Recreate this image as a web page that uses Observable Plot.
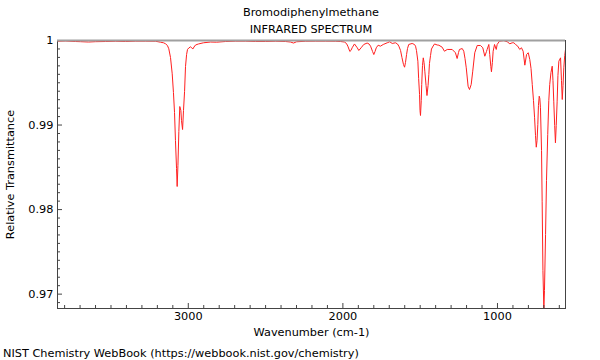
<!DOCTYPE html>
<html>
<head>
<meta charset="utf-8">
<script src="https://cdn.jsdelivr.net/npm/d3@7"></script>
<script src="https://cdn.jsdelivr.net/npm/@observablehq/plot@0.6"></script>
<style>
  body { margin: 0; background: #fff; font-family: "DejaVu Sans", sans-serif; }
  #wrap { position: relative; width: 600px; height: 360px; }
  .title { position: absolute; left: 57px; width: 508px; text-align: center; font-size: 11.3px; color: #000; line-height: 14px; }
  #chart { position: absolute; left: 0; top: 34px; }
  #caption { position: absolute; left: 3px; top: 346px; font-size: 11.3px; color: #000; line-height: 16px; }
</style>
</head>
<body>
<div id="wrap">
  <div class="title" style="top:6px">Bromodiphenylmethane</div>
  <div class="title" style="top:23px">INFRARED SPECTRUM</div>
  <div id="chart"></div>
  <div id="caption">NIST Chemistry WebBook (https://webbook.nist.gov/chemistry)</div>
</div>
<script>
const wavenumber = [3846,3794,3730,3697,3645,3600,3536,3471,3406,3341,3277,3212,3180,3160,3147,3135,3126,3115,3104,3096,3089,3083,3076,3072,3067,3061,3055,3048,3044,3037,3031,3024,3018,3011,3005,2997,2986,2979,2971,2963,2953,2934,2902,2856,2817,2759,2695,2630,2565,2501,2436,2371,2339,2319,2300,2242,2177,2112,2048,2016,1990,1977,1968,1955,1948,1940,1925,1907,1897,1882,1865,1843,1831,1821,1808,1800,1792,1784,1772,1757,1739,1713,1697,1681,1660,1647,1638,1627,1618,1608,1601,1595,1588,1582,1574,1552,1537,1530,1524,1515,1510,1504,1501,1498,1493,1490,1485,1480,1475,1470,1462,1456,1449,1444,1440,1433,1427,1416,1407,1390,1379,1358,1343,1325,1293,1272,1261,1252,1246,1228,1218,1210,1202,1190,1181,1170,1160,1147,1131,1110,1095,1082,1071,1067,1056,1050,1043,1039,1033,1028,1019,1008,1002,987,959,937,920,905,894,883,869,856,845,834,823,812,801,791,783,775,767,760,754,749,744,739,735,730,726,722,715,711,706,700,696,689,683,675,668,662,654,646,641,636,630,625,620,614,609,603,592,586,581,576,571,565,560];
const transmittance = [0.99991,0.99994,0.99988,0.99986,0.99982,0.99986,0.99988,0.99991,0.99988,0.99992,0.99992,0.99991,0.99980,0.99973,0.99961,0.99941,0.99902,0.99799,0.99606,0.99385,0.99148,0.98817,0.98486,0.98273,0.98522,0.98924,0.99219,0.99172,0.99054,0.98947,0.99172,0.99397,0.99692,0.99834,0.99894,0.99911,0.99925,0.99917,0.99899,0.99923,0.99947,0.99959,0.99973,0.99982,0.99980,0.99988,0.99992,0.99992,0.99988,0.99988,0.99991,0.99988,0.99982,0.99970,0.99985,0.99991,0.99992,0.99992,0.99991,0.99988,0.99982,0.99965,0.99933,0.99870,0.99882,0.99914,0.99959,0.99914,0.99882,0.99914,0.99953,0.99970,0.99959,0.99933,0.99870,0.99834,0.99870,0.99914,0.99944,0.99933,0.99953,0.99973,0.99985,0.99965,0.99973,0.99959,0.99933,0.99882,0.99799,0.99716,0.99684,0.99740,0.99834,0.99905,0.99953,0.99965,0.99953,0.99933,0.99882,0.99755,0.99551,0.99361,0.99172,0.99113,0.99290,0.99480,0.99704,0.99795,0.99740,0.99637,0.99468,0.99349,0.99468,0.99598,0.99728,0.99823,0.99899,0.99935,0.99959,0.99947,0.99944,0.99921,0.99873,0.99894,0.99894,0.99855,0.99787,0.99858,0.99894,0.99905,0.99873,0.99787,0.99677,0.99459,0.99420,0.99480,0.99637,0.99855,0.99941,0.99941,0.99914,0.99814,0.99870,0.99894,0.99953,0.99834,0.99692,0.99630,0.99740,0.99873,0.99953,0.99894,0.99953,0.99992,0.99998,0.99985,0.99961,0.99973,0.99973,0.99953,0.99933,0.99894,0.99914,0.99873,0.99708,0.99834,0.99855,0.99775,0.99669,0.99480,0.99290,0.99086,0.98876,0.98738,0.98817,0.99006,0.99231,0.99341,0.99314,0.99204,0.98699,0.98099,0.97280,0.96830,0.97043,0.97705,0.98344,0.98888,0.99290,0.99480,0.99621,0.99696,0.99527,0.99282,0.98995,0.98790,0.98995,0.99282,0.99586,0.99755,0.99795,0.99527,0.99302,0.99468,0.99677,0.99823,0.99894];
const xMajorTicks = [1000, 2000, 3000];
const xMinorTicks = d3.range(600, 3900, 100).filter(v => v % 1000 !== 0);
const yMajorTicks = [0.97, 0.98, 0.99, 1];
const yMinorTicks = d3.range(969, 1000).map(v => v / 1000).filter(v => Math.round(v * 1000) % 10 !== 0);
const xDomain = [3846, 560];
const yDomain = [0.9683, 1];

const data = wavenumber.map((w, i) => ({w, t: transmittance[i]}));
const W = 600, H = 310, mL = 57, mR = 35, mT = 6, mB = 36;
const pw = W - mL - mR, ph = H - mT - mB;
const axisColor = "#444";
const fs = 11.3;

const chart = Plot.plot({
  width: W, height: H,
  marginLeft: mL, marginRight: mR, marginTop: mT, marginBottom: mB,
  style: {fontFamily: "DejaVu Sans, sans-serif", fontSize: fs + "px", color: "#000", background: "#fff"},
  x: {domain: xDomain},
  y: {domain: yDomain},
  marks: [
    Plot.line(data, {x: "w", y: "t", stroke: "#ff2020", strokeWidth: 1, clip: true}),
    Plot.tickX(xMajorTicks, {x: d => d, insetTop: ph - 5, stroke: axisColor}),
    Plot.tickX(xMinorTicks, {x: d => d, insetTop: ph - 3, stroke: axisColor}),
    Plot.tickY(yMajorTicks, {y: d => d, insetRight: pw - 5, stroke: axisColor}),
    Plot.tickY(yMinorTicks, {y: d => d, insetRight: pw - 3, stroke: axisColor}),
    Plot.axisX({ticks: xMajorTicks, tickSize: 0, tickPadding: 3, tickFormat: d => String(d), label: null, fontSize: fs}),
    Plot.axisY({ticks: yMajorTicks, tickSize: 0, tickPadding: 4, tickFormat: d => d === 1 ? "1" : d.toFixed(2), label: null, fontSize: fs}),
    Plot.text(["Wavenumber (cm-1)"], {frameAnchor: "bottom", lineAnchor: "middle", dy: 24, fontSize: fs, fill: "#000"}),
    Plot.text(["Relative Transmittance"], {frameAnchor: "left", textAnchor: "middle", lineAnchor: "middle", dx: -47, rotate: -90, fontSize: fs, fill: "#000"}),
    Plot.frame({stroke: axisColor}),
    Plot.ruleY([1], {stroke: "#a0a0a0", strokeWidth: 2})
  ]
});
document.getElementById("chart").appendChild(chart);
</script>
</body>
</html>
